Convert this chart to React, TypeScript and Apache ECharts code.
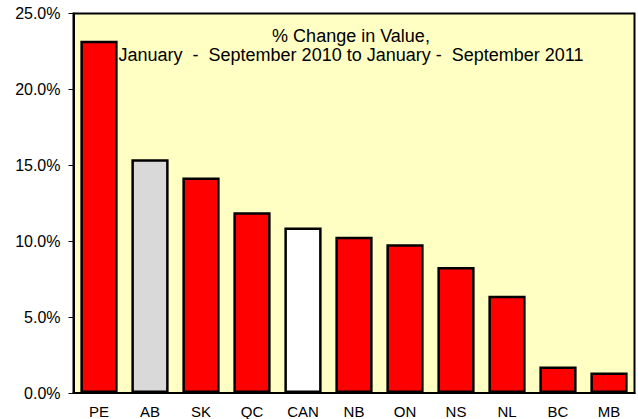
import React, { useEffect, useRef } from "react";
import * as echarts from "echarts";

const categories = ["PE", "AB", "SK", "QC", "CAN", "NB", "ON", "NS", "NL", "BC", "MB"];
const values = [23.2, 15.4, 14.2, 11.9, 10.9, 10.3, 9.8, 8.3, 6.4, 1.75, 1.35];
const barColors = ["#FF0000", "#D9D9D9", "#FF0000", "#FF0000", "#FFFFFF", "#FF0000", "#FF0000", "#FF0000", "#FF0000", "#FF0000", "#FF0000"];
const titleLines = ["% Change in Value,", "January  -  September 2010 to January -  September 2011"];

export default function App() {
  const ref = useRef<HTMLDivElement>(null);
  useEffect(() => {
    const chart = echarts.init(ref.current!, undefined, { renderer: "svg" });
    const font = "'Liberation Sans', Arial, sans-serif";
    chart.setOption({
      animation: false,
      backgroundColor: "#FFFFFF",
      title: {
        text: titleLines.join("\n"),
        left: 346,
        top: 21.5,
        textAlign: "center",
        textStyle: { fontFamily: font, fontSize: 18, fontWeight: "normal", color: "#000", lineHeight: 19 },
      },
      grid: {
        left: 73.5,
        right: 3.5,
        top: 13.5,
        bottom: 25.5,
        show: true,
        backgroundColor: "#FFFFC4",
        borderColor: "#000",
        borderWidth: 2,
        containLabel: false,
      },
      xAxis: {
        type: "category",
        data: categories,
        axisLine: { show: true, lineStyle: { color: "#000", width: 2 } },
        axisTick: { show: false },
        axisLabel: { fontFamily: font, fontSize: 15, color: "#000", margin: 11 },
      },
      yAxis: {
        type: "value",
        min: 0,
        max: 25,
        interval: 5,
        axisLine: { show: true, lineStyle: { color: "#000", width: 2 } },
        axisTick: { show: true, length: 5, lineStyle: { color: "#000", width: 1 } },
        splitLine: { show: false },
        axisLabel: {
          fontFamily: font,
          fontSize: 16,
          color: "#000",
          margin: 13,
          formatter: (v: number) => v.toFixed(1) + "%",
        },
      },
      series: [
        {
          type: "bar",
          barWidth: "73%",
          data: values.map((v, i) => ({
            value: v,
            itemStyle: { color: barColors[i], borderColor: "#000", borderWidth: 2.5 },
          })),
        },
      ],
    });
    return () => chart.dispose();
  }, []);
  return <div ref={ref} style={{ position: "fixed", left: 0, top: 0, width: 638, height: 419 }} />;
}
